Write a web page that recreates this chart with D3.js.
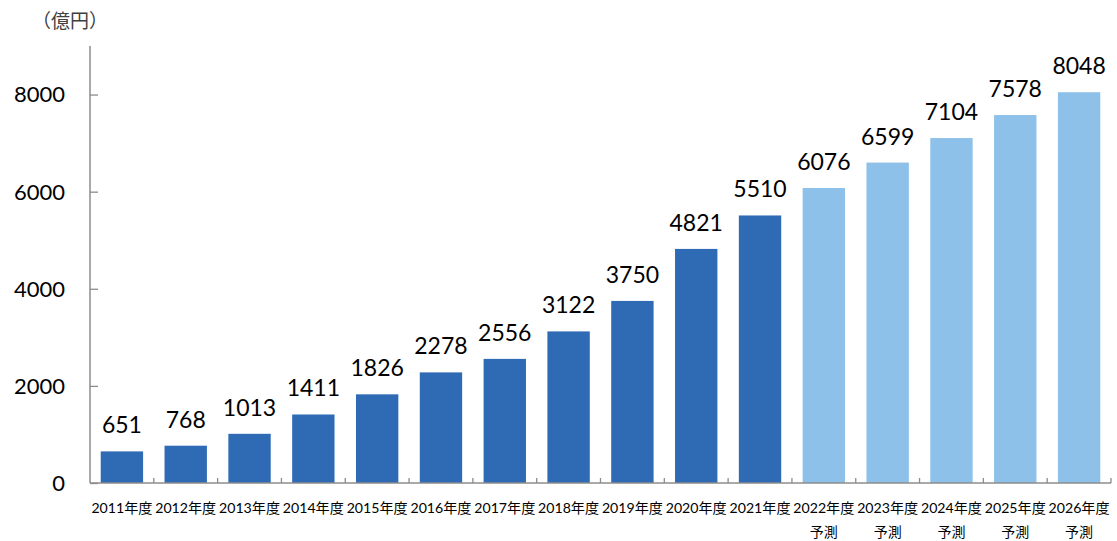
<!DOCTYPE html>
<html>
<head>
<meta charset="utf-8">
<script src="https://cdn.jsdelivr.net/npm/d3@7"></script>
<style>
  html, body { margin: 0; padding: 0; background: #fff; }
  svg { display: block; font-family: Lato, "Noto Sans CJK JP", sans-serif; }
</style>
</head>
<body>
<svg id="chart" width="1117" height="541"></svg>
<script>
// Market size by fiscal year (億円); 2022年度 onward are forecasts
const years = ["2011", "2012", "2013", "2014", "2015", "2016", "2017", "2018",
               "2019", "2020", "2021", "2022", "2023", "2024", "2025", "2026"];
const values = [651, 768, 1013, 1411, 1826, 2278, 2556, 3122,
                3750, 4821, 5510, 6076, 6599, 7104, 7578, 8048];
const forecast = [false, false, false, false, false, false, false, false,
                  false, false, false, true, true, true, true, true];
const yTicks = [0, 2000, 4000, 6000, 8000];
const unitLabel = "（億円）";
const yearSuffix = "年度";
const forecastLabel = "予測";

const svg = d3.select("#chart");
const plotLeft = 90, plotRight = 1111, plotTop = 46, plotBottom = 483;

const x = d3.scaleBand().domain(years).range([plotLeft, plotRight]).paddingInner(0.336).paddingOuter(0.168);
const y = d3.scaleLinear().domain([0, 9000]).range([plotBottom, plotTop]);

const axisColor = "#8c8c8c";

// bars
svg.append("g").selectAll("rect")
  .data(years)
  .join("rect")
  .attr("x", d => x(d))
  .attr("width", x.bandwidth())
  .attr("y", (d, i) => y(values[i]))
  .attr("height", (d, i) => y(0) - y(values[i]))
  .attr("fill", (d, i) => forecast[i] ? "#8DC1EA" : "#2E6BB4");

// value labels
svg.append("g").selectAll("text")
  .data(years)
  .join("text")
  .attr("x", d => x(d) + x.bandwidth() / 2)
  .attr("y", (d, i) => y(values[i]) - 18)
  .attr("text-anchor", "middle")
  .attr("font-size", 23)
  .attr("fill", "#000")
  .text((d, i) => values[i]);

// y axis
const yAxis = svg.append("g").attr("transform", `translate(${plotLeft},0)`)
  .call(d3.axisRight(y).tickValues(yTicks).tickSize(8).tickFormat(""));
yAxis.select(".domain").remove();
yAxis.selectAll(".tick line").attr("stroke", axisColor).attr("stroke-width", 1.3);
svg.append("line")
  .attr("x1", plotLeft).attr("x2", plotLeft).attr("y1", plotTop).attr("y2", plotBottom)
  .attr("stroke", axisColor).attr("stroke-width", 1.5);
svg.append("g").selectAll("text")
  .data(yTicks)
  .join("text")
  .attr("x", 65)
  .attr("y", d => y(d))
  .attr("dy", "0.36em")
  .attr("text-anchor", "end")
  .attr("font-size", 22)
  .attr("fill", "#000")
  .text(d => d);

// x axis with boundary ticks between categories
const boundaries = years.map(d => x(d) - x.step() * x.paddingInner() / 2).slice(1).concat([plotRight]);
svg.append("g").selectAll("line")
  .data(boundaries)
  .join("line")
  .attr("x1", d => d).attr("x2", d => d)
  .attr("y1", plotBottom - 5).attr("y2", plotBottom)
  .attr("stroke", axisColor).attr("stroke-width", 1.3);
svg.append("line")
  .attr("x1", plotLeft).attr("x2", plotRight).attr("y1", plotBottom).attr("y2", plotBottom)
  .attr("stroke", axisColor).attr("stroke-width", 1.5);

// category labels
const xl = svg.append("g").selectAll("g")
  .data(years)
  .join("g")
  .attr("transform", d => `translate(${x(d) + x.bandwidth() / 2},0)`);
xl.append("text")
  .attr("y", 513)
  .attr("text-anchor", "middle")
  .attr("font-size", 14)
  .attr("fill", "#000")
  .attr("textLength", 61)
  .attr("lengthAdjust", "spacingAndGlyphs")
  .text(d => d + yearSuffix);
xl.filter((d, i) => forecast[i]).append("text")
  .attr("y", 537)
  .attr("text-anchor", "middle")
  .attr("font-size", 14)
  .attr("fill", "#000")
  .text(forecastLabel);

// unit label
svg.append("text")
  .attr("x", 70)
  .attr("y", 28)
  .attr("text-anchor", "middle")
  .attr("font-size", 19)
  .attr("fill", "#404040")
  .text(unitLabel);
</script>
</body>
</html>
